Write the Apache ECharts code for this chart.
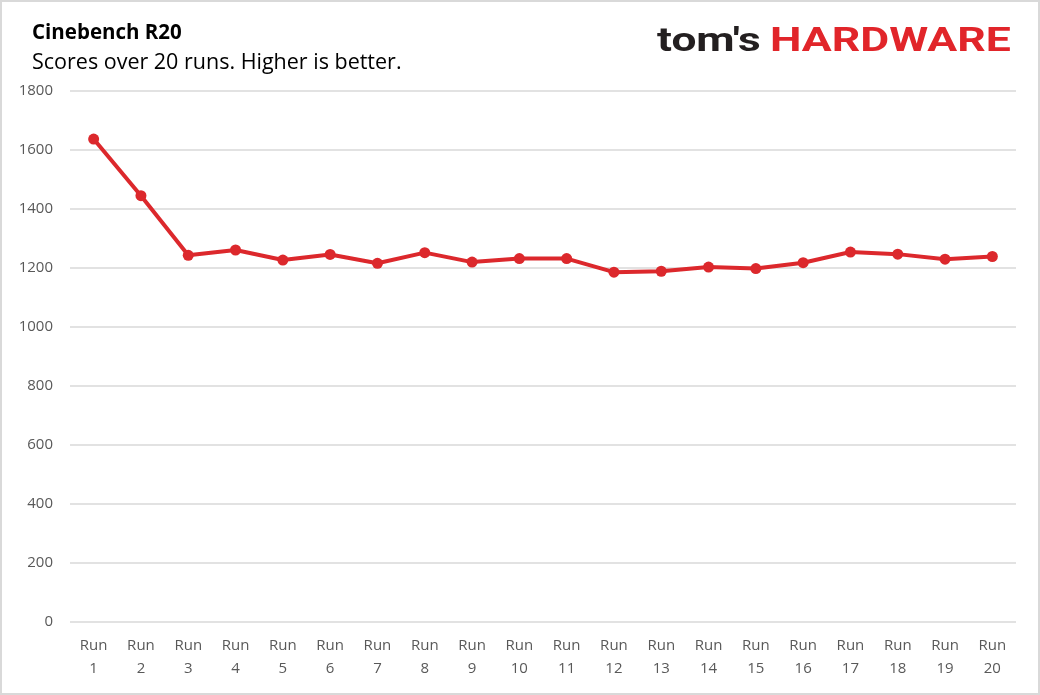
<!DOCTYPE html>
<html>
<head>
<meta charset="utf-8">
<script src="https://cdn.jsdelivr.net/npm/echarts@6/dist/echarts.min.js"></script>
<style>
  html, body { margin: 0; padding: 0; background: #fff; }
  #chart { width: 1040px; height: 695px; }
</style>
</head>
<body>
<div id="chart"></div>
<script>
// Cinebench R20 scores
const runs = ['Run\n1', 'Run\n2', 'Run\n3', 'Run\n4', 'Run\n5', 'Run\n6', 'Run\n7', 'Run\n8', 'Run\n9', 'Run\n10',
    'Run\n11', 'Run\n12', 'Run\n13', 'Run\n14', 'Run\n15', 'Run\n16', 'Run\n17', 'Run\n18', 'Run\n19', 'Run\n20'];
const scores = [1637, 1445, 1243, 1261, 1227, 1246, 1216, 1252, 1220, 1232,
    1232, 1186, 1189, 1203, 1198, 1218, 1254, 1247, 1230, 1239];
const yMin = 0;
const yMax = 1800;
const yStep = 200;

const labelColor = '#595959';
const gridColor = '#d9d9d9';
const lineColor = '#dc282c';

const el = document.getElementById('chart');
const chart = echarts.init(el);

chart.setOption({
    backgroundColor: '#fff',
    animation: false,
    title: {
        text: 'Cinebench R20',
        subtext: 'Scores over 20 runs. Higher is better.',
        left: 27,
        top: 18,
        itemGap: 8,
        textStyle: { fontFamily: 'Open Sans', fontWeight: 'bold', fontSize: 20.5, color: '#000' },
        subtextStyle: { fontFamily: 'Open Sans', fontSize: 21.5, color: '#000' }
    },
    graphic: [
        {
            type: 'rect',
            shape: { x: 1, y: 1, width: 1038, height: 693 },
            style: { fill: 'none', stroke: gridColor, lineWidth: 2 },
            silent: true
        },
        {
            type: 'text',
            x: 657,
            y: 26,
            scaleX: 1.34,
            style: { text: "tom's", fontFamily: 'Roboto', fontWeight: 'bold', fontSize: 33, fill: '#231f20' }
        },
        {
            type: 'text',
            x: 770,
            y: 26,
            scaleX: 1.35,
            style: { text: 'HARDWARE', fontFamily: 'Roboto', fontWeight: 'bold', fontSize: 33, fill: '#e1252a' }
        }
    ],
    grid: { left: 70, right: 24, top: 91, bottom: 73, containLabel: false },
    xAxis: {
        type: 'category',
        data: runs,
        boundaryGap: true,
        axisLine: { show: false },
        axisTick: { show: false },
        axisLabel: { color: labelColor, fontFamily: 'Open Sans', fontSize: 15, lineHeight: 23, margin: 12, interval: 0 }
    },
    yAxis: {
        type: 'value',
        min: yMin,
        max: yMax,
        interval: yStep,
        axisLine: { show: false },
        axisTick: { show: false },
        axisLabel: { color: labelColor, fontFamily: 'Open Sans', fontSize: 15, margin: 17, formatter: v => String(v) },
        splitLine: { lineStyle: { color: gridColor, width: 1.5 } }
    },
    series: [{
        type: 'line',
        data: scores,
        symbol: 'circle',
        symbolSize: 11,
        lineStyle: { color: lineColor, width: 4 },
        itemStyle: { color: lineColor }
    }]
});

window.addEventListener('resize', () => chart.resize(), false);
</script>
</body>
</html>
